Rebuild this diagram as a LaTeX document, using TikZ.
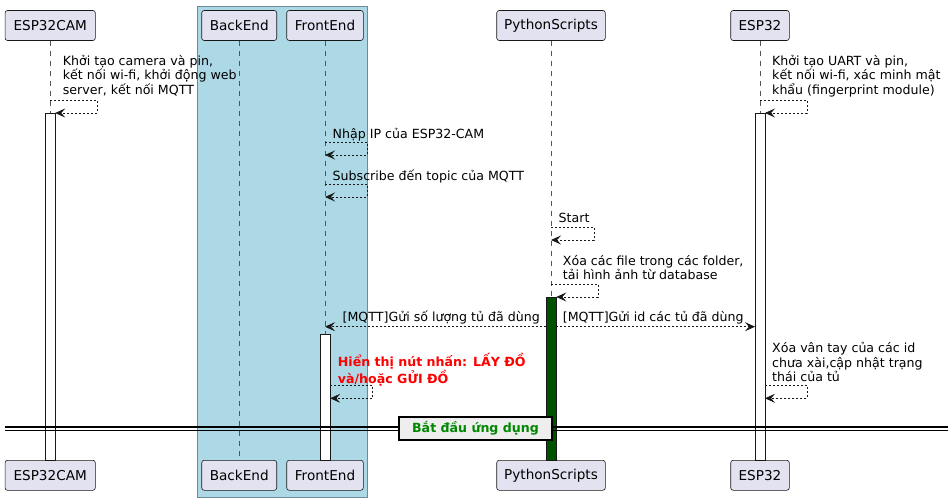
\documentclass[tikz,border=0pt]{standalone}
\usepackage{fontspec}
\setmainfont{DejaVu Sans}
\usetikzlibrary{arrows.meta}
\definecolor{partfill}{HTML}{E2E2F0}
\definecolor{partdraw}{HTML}{181818}
\definecolor{grpfill}{HTML}{ADD8E6}
\definecolor{grpdraw}{HTML}{6F8A95}
\definecolor{lifec}{HTML}{555555}
\definecolor{actgreen}{HTML}{005200}
\definecolor{txtred}{HTML}{FF0000}
\definecolor{txtgreen}{HTML}{008800}
\definecolor{divfill}{HTML}{EEEEEE}
\begin{document}
\begin{tikzpicture}[x=1pt,y=-1pt,
  part/.style={draw=partdraw,fill=partfill,rounded corners=2.5pt,line width=0.6pt,
    minimum height=30pt,inner sep=0pt,font=\fontsize{13.6}{16}\selectfont},
  life/.style={draw=lifec,line width=0.6pt,dash pattern=on 5pt off 5pt},
  act/.style={draw=partdraw,fill=white,line width=0.8pt},
  msg/.style={draw=partdraw,line width=0.7pt,dash pattern=on 2pt off 2pt,
    -{Stealth[length=10pt,width=9pt,inset=4pt]}},
  lbl/.style={inner sep=0pt,anchor=north west,align=left,font=\fontsize{12.6}{14.6}\selectfont},
]
\useasboundingbox (0,0) rectangle (952,502);
% group box
\draw[fill=grpfill,draw=grpdraw,line width=0.8pt] (197.3,6) rectangle (367.3,497.3);
% participants
\node[part,minimum width=90.3pt] (camT) at (50.2,25.5) {ESP32CAM};
\node[part,minimum width=75pt] (beT) at (239.2,25.5) {BackEnd};
\node[part,minimum width=76.6pt] (feT) at (325,25.5) {FrontEnd};
\node[part,minimum width=108.6pt] (pyT) at (551,25.5) {PythonScripts};
\node[part,minimum width=58.6pt] (espT) at (760,25.5) {ESP32};
\node[part,minimum width=90.3pt] (camB) at (50.2,475.3) {ESP32CAM};
\node[part,minimum width=75pt] (beB) at (239.2,475.3) {BackEnd};
\node[part,minimum width=76.6pt] (feB) at (325,475.3) {FrontEnd};
\node[part,minimum width=108.6pt] (pyB) at (551,475.3) {PythonScripts};
\node[part,minimum width=58.6pt] (espB) at (760,475.3) {ESP32};
% lifelines
\foreach \a/\b in {camT/camB,beT/beB,feT/feB,pyT/pyB,espT/espB}
  \draw[life] (\a.south) -- (\b.north);
% activations
\draw[act] (45.2,113) rectangle (55.2,460.3);
\draw[act] (755,113) rectangle (765,460.3);
\draw[act] (320.2,334) rectangle (330.2,460.3);
\draw[act,fill=actgreen] (546.3,297) rectangle (556.3,460.3);
% coordinates
\coordinate (c1a) at (50.2,100);
\coordinate (c1b) at (55.2,113);
\coordinate (e1a) at (760,100);
\coordinate (e1b) at (765,113);
\coordinate (f1a) at (325,142);
\coordinate (f1b) at (325,155);
\coordinate (f2a) at (325,184);
\coordinate (f2b) at (325,197);
\coordinate (p1a) at (551,227);
\coordinate (p1b) at (551,240);
\coordinate (p2a) at (551,284);
\coordinate (p2b) at (556.3,297);
\coordinate (pL) at (546.3,326.7);
\coordinate (fL) at (325,326.7);
\coordinate (pR) at (556.3,326.7);
\coordinate (eR) at (755,326.7);
\coordinate (f3a) at (330.2,385);
\coordinate (f3b) at (330.2,398.3);
\coordinate (e2a) at (765,385);
\coordinate (e2b) at (765,398.3);
% self messages
\draw[msg] (c1a) -| (97,113) -- (c1b);
\draw[msg] (e1a) -| (807,113) -- (e1b);
\draw[msg] (f1a) -| (367,155) -- (f1b);
\draw[msg] (f2a) -| (367,197) -- (f2b);
\draw[msg] (p1a) -| (594,240) -- (p1b);
\draw[msg] (p2a) -| (598,297) -- (p2b);
\draw[msg] (f3a) -| (372.5,398.3) -- (f3b);
\draw[msg] (e2a) -| (807,398.3) -- (e2b);
\draw[msg] (pL) -- (fL);
\draw[msg] (pR) -- (eR);
% labels
\node[lbl] (t1) at (62.7,52.5) {\rule{0pt}{12.5pt}Khởi tạo camera và pin,\\kết nối wi-fi, khởi động web\\server, kết nối MQTT};
\node[lbl] (t2) at (772,52.5) {\rule{0pt}{12.5pt}Khởi tạo UART và pin,\\kết nối wi-fi, xác minh mật\\khẩu (fingerprint module)};
\node[lbl] (t3) at (332.5,126) {\rule{0pt}{12.5pt}Nhập IP của ESP32-CAM};
\node[lbl] (t4) at (332.5,168) {\rule{0pt}{12.5pt}Subscribe đến topic của MQTT};
\node[lbl] (t5) at (558.5,209.8) {\rule{0pt}{12.5pt}Start};
\node[lbl] (t6) at (562.7,252.5) {\rule{0pt}{12.5pt}Xóa các file trong các folder,\\tải hình ảnh từ database};
\node[lbl] (t7) at (342.5,309.2) {\rule{0pt}{12.5pt}[MQTT]Gửi số lượng tủ đã dùng};
\node[lbl] (t8) at (562.7,309.2) {\rule{0pt}{12.5pt}[MQTT]Gửi id các tủ đã dùng};
\node[lbl,text=txtred,font=\fontsize{12.6}{14.6}\selectfont\bfseries] (t9) at (337.7,353.2) {\rule{0pt}{12.5pt}Hiển thị nút nhấn: LẤY ĐỒ\\và/hoặc GỬI ĐỒ};
\node[lbl] (t10) at (772,339.8) {\rule{0pt}{12.5pt}Xóa vân tay của các id\\chưa xài,cập nhật trạng\\thái của tủ};
% divider
\draw[line width=1.2pt] (5,427) -- (948,427);
\draw[line width=1.2pt] (5,430.5) -- (948,430.5);
\node[draw=black,line width=2pt,fill=divfill,minimum width=153pt,minimum height=23pt,inner sep=0pt,
  text=txtgreen,font=\fontsize{12.6}{14.6}\selectfont\bfseries] (div) at (475.5,428.7) {Bắt đầu ứng dụng};
\end{tikzpicture}
\end{document}
